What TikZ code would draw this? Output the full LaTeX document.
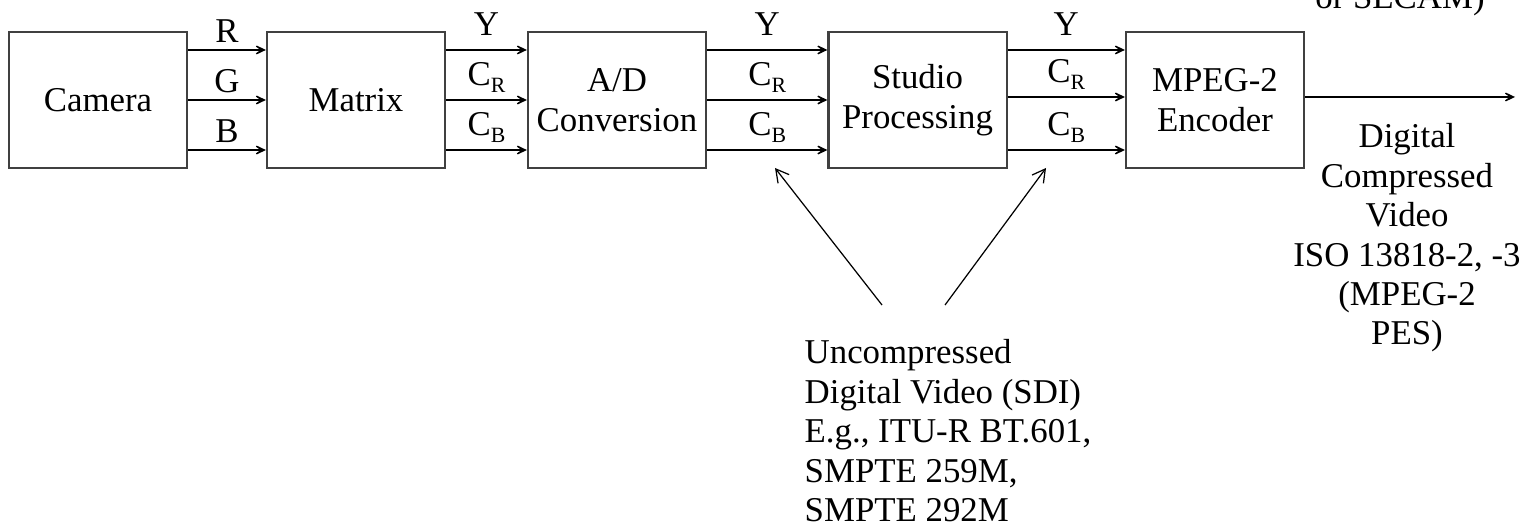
\documentclass[tikz,border=0pt]{standalone}
\usepackage{fontspec}
\setmainfont{Liberation Serif}
\usetikzlibrary{arrows.meta}
\newcommand{\sub}[1]{\raisebox{-2.1pt}{\fontsize{6.2}{6.5}\selectfont #1}}
\tikzset{
  every node/.style={font=\fontsize{9.9}{11.2}\selectfont},
  block/.style={draw=black!75, line width=0.6pt, minimum width=1.78cm,
    minimum height=1.36cm, align=center, inner sep=0pt},
  sig/.style={draw, line width=0.5pt,
    -{Stealth[length=4.6pt, width=4.4pt, inset=3.1pt]}},
  note/.style={draw, line width=0.35pt,
    -{Straight Barb[length=3.6pt, width=4pt]}},
  rgb/.style={anchor=base, inner sep=0pt, yshift=2pt},
  ycc/.style={anchor=base, inner sep=0pt, yshift=4.2pt},
}
\begin{document}
\begin{tikzpicture}[x=0.01cm, y=-0.01cm]
\useasboundingbox (0,0) rectangle (1525,528);

% processing chain
\node[block] (cam) at (98,100)     {Camera};
\node[block] (mat) at (356,100)    {Matrix};
\node[block] (adc) at (617,100)    {A/D\\Conversion};
\node[block] (stu) at (917.5,100)  {Studio\\Processing};
\node[block] (enc) at (1215,100)   {MPEG-2\\Encoder};

% camera -> matrix
\path[sig] ([yshift=5mm]cam.east) -- node[rgb, midway] {R} ([yshift=5mm]mat.west);
\path[sig] (cam.east) -- node[rgb, midway] {G} (mat.west);
\path[sig] ([yshift=-5mm]cam.east) -- node[rgb, midway] {B} ([yshift=-5mm]mat.west);

% matrix -> A/D
\path[sig] ([yshift=5mm]mat.east) -- node[ycc, midway] {Y} ([yshift=5mm]adc.west);
\path[sig] (mat.east) -- node[ycc, midway] {C\sub{R}} (adc.west);
\path[sig] ([yshift=-5mm]mat.east) -- node[ycc, midway] {C\sub{B}} ([yshift=-5mm]adc.west);

% A/D -> studio
\path[sig] ([yshift=5mm]adc.east) -- node[ycc, midway] {Y} ([yshift=5mm]stu.west);
\path[sig] (adc.east) -- node[ycc, midway] {C\sub{R}} (stu.west);
\path[sig] ([yshift=-5mm]adc.east) -- node[ycc, midway] {C\sub{B}} ([yshift=-5mm]stu.west);

% studio -> encoder
\path[sig] ([yshift=5mm]stu.east) -- node[ycc, midway] {Y} ([yshift=5mm]enc.west);
\path[sig] ([yshift=0.3mm]stu.east) -- node[ycc, midway] {C\sub{R}} ([yshift=0.3mm]enc.west);
\path[sig] ([yshift=-5mm]stu.east) -- node[ycc, midway] {C\sub{B}} ([yshift=-5mm]enc.west);

% encoder output
\coordinate (out) at (1515,97);
\path[sig] (enc.east |- out) -- (out);
\node[anchor=north, align=center, inner sep=0pt] (outlbl) at (1407,123)
  {Digital\\Compressed\\Video\\ISO 13818-2, -3\\(MPEG-2\\PES)};
\node[anchor=base, inner sep=0pt] (inlbl) at (1400,9) {or SECAM)};

% SDI annotation
\node[anchor=north west, align=left, inner sep=0pt] (sdi) at (804,339)
  {Uncompressed\\Digital Video (SDI)\\E.g., ITU-R BT.601,\\SMPTE 259M,\\SMPTE 292M};
\coordinate (sdiL) at (882,305);
\coordinate (sdiR) at (945,305);
\coordinate (tapL) at (775,168);
\coordinate (tapR) at (1046,168);
\path[note] (sdiL) -- (tapL);
\path[note] (sdiR) -- (tapR);
\end{tikzpicture}
\end{document}
